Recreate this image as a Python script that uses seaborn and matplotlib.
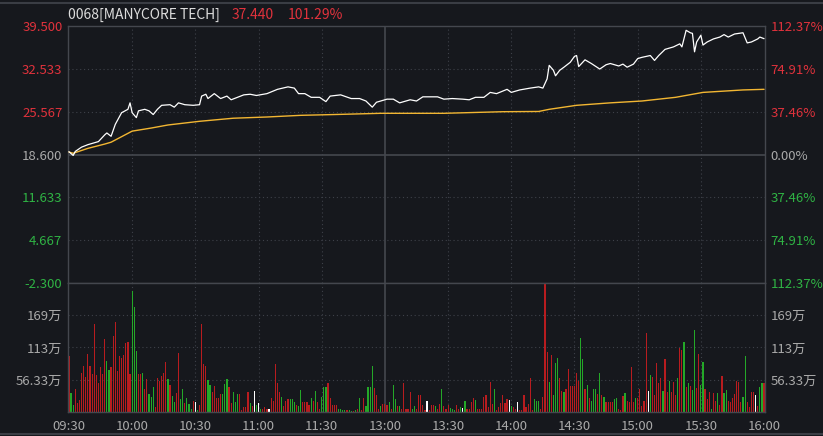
import numpy as np
import pandas as pd
import matplotlib
matplotlib.use('Agg')
import matplotlib.pyplot as plt
import seaborn as sns
from matplotlib.lines import Line2D

# --- dados (minutos desde 09:30, almoço removido) ---
preco_minuto = [0, 2, 3, 6, 9, 14, 17, 18, 20, 22,
                25, 28, 29, 30, 32, 33, 36, 38, 40, 42,
                44, 48, 50, 52, 55, 59, 62, 63, 65, 66,
                69, 72, 75, 77, 80, 83, 86, 89, 94, 99,
                104, 107, 109, 112, 115, 119, 122, 124, 129, 134,
                138, 141, 144, 146, 151, 154, 157, 162, 165, 168,
                175, 178, 182, 187, 190, 193, 197, 200, 203, 208,
                210, 214, 219, 223, 225, 227, 228, 230, 231, 233,
                235, 238, 240, 241, 242, 245, 248, 252, 255, 257,
                261, 263, 265, 268, 270, 272, 276, 278, 280, 283,
                287, 290, 291, 293, 295, 296, 297, 298, 300, 301,
                303, 306, 309, 311, 313, 316, 320, 322, 324, 327,
                328, 330]
preco = [19.05, 18.45, 19.1, 19.8, 20.2, 20.7, 21.8, 22.1, 21.56, 23.5,
         25.4, 25.95, 27.0, 25.4, 24.6, 25.7, 25.95, 25.7, 25.1, 25.95,
         26.6, 26.7, 26.3, 27.0, 26.7, 26.6, 26.7, 28.1, 28.4, 27.7,
         28.5, 27.7, 28.1, 27.5, 27.9, 28.3, 28.4, 28.2, 28.5, 29.2,
         29.6, 29.4, 28.5, 28.5, 27.9, 27.9, 27.2, 28.1, 28.3, 27.7,
         27.7, 27.3, 26.3, 27.1, 27.6, 27.6, 27.0, 27.5, 27.3, 27.98,
         27.98, 27.6, 27.7, 27.6, 27.5, 27.9, 27.9, 28.7, 28.5, 29.2,
         28.7, 29.1, 29.4, 29.6, 29.4, 30.9, 33.1, 32.3, 31.4, 32.3,
         32.8, 33.6, 34.56, 34.7, 32.9, 34.0, 33.4, 32.5, 33.2, 33.4,
         33.0, 33.3, 32.8, 33.3, 34.2, 34.4, 34.7, 33.9, 34.7, 35.7,
         36.1, 36.6, 36.1, 38.8, 38.4, 38.3, 35.3, 36.9, 38.0, 36.4,
         36.9, 37.4, 37.7, 38.1, 37.7, 38.2, 38.4, 36.75, 36.9, 37.4,
         37.7, 37.44]

media_minuto = [0, 2, 9, 17, 20, 30, 39, 47, 62, 78, 94, 110, 126, 148, 178,
                206, 223, 228, 241, 257, 272, 288, 301, 320, 330]
media_preco = [19.0, 18.8, 19.6, 20.3, 20.6, 22.4, 22.9, 23.4, 24.0, 24.5, 24.7,
               24.97, 25.1, 25.3, 25.3, 25.56, 25.6, 25.95, 26.6, 27.0, 27.3,
               27.9, 28.7, 29.1, 29.2]

# volume por minuto (万 ações)
volume = [97, 33, 12, 40, 15, 21, 68, 81, 62, 101, 81, 66, 153, 65, 50, 78, 66, 127, 89, 74,
          78, 133, 157, 71, 98, 94, 100, 121, 122, 66,
          212, 183, 106, 67, 66, 68, 40, 58, 32, 27, 44, 8, 60, 55, 63, 68, 87, 58, 48, 28,
          18, 33, 103, 23, 40, 15, 24, 14, 5, 20, 18, 4, 12, 153, 83, 80,
          56, 47, 35, 45, 25, 25, 32, 32, 49, 58, 43, 15, 35, 17, 32, 32, 3, 8, 8, 35,
          15, 10, 37, 12, 16, 6, 6, 8, 5, 5, 25, 20, 83, 50, 35, 27, 10, 20, 22, 22,
          22, 18, 12, 10, 38, 17, 18, 17, 13, 24, 20, 37, 17, 5, 27, 43, 43, 50, 25, 13,
          13, 12, 5, 5, 3, 3,
          3, 3, 2, 2, 3, 5, 24, 3, 24, 10, 44, 43, 81, 42, 30, 5, 10, 14, 14, 12,
          18, 5, 48, 22, 10, 10, 5, 51, 5, 5, 35, 5, 10, 5, 30, 30, 12, 3, 19, 3,
          12, 12, 10, 5, 14, 41, 10, 5, 12, 7, 5, 3, 12, 5, 8, 7, 20, 5, 5, 17,
          24, 21, 5, 5, 5, 27,
          30, 8, 53, 14, 40, 3, 8, 15, 30, 15, 22, 21, 10, 8, 5, 17, 3, 3, 30, 8,
          14, 60, 3, 22, 19, 19, 5, 27,
          224, 105, 53, 99, 30, 85, 95, 60, 37, 35, 40, 75, 45, 45, 45, 68, 55, 130, 93, 40,
          47, 25, 20, 40, 40, 32, 68, 30, 27, 18, 18, 17, 17, 22, 24, 5, 3, 28,
          33, 20, 18, 78, 18, 25, 25, 40, 10, 20, 138, 37, 64, 62, 30, 85, 50, 60, 37, 92,
          35, 55, 35, 52, 30, 60, 112, 108, 123, 43, 50, 45, 38, 144, 42, 102, 47, 88, 40, 22,
          35, 5, 33, 20, 33, 12, 63, 33, 38, 20, 17, 25, 32, 55, 52, 18, 27, 97, 17, 8,
          35, 35, 30, 10, 43, 50, 50]
# r = alta, g = baixa, w = estável
direcao = list(
    'rggrrrrrrr' 'rrrrrrrrgg' 'rrrrrrrrrr'
    'gggrrgrrgg' 'grrrrrrgrg' 'grrggrgggr' 'wgrrrr'
    'ggrrrrrggg' 'rrgggrrrrr' 'grwgwgrrrw' 'rrrrrgrrrg' 'ggrggrrrrg' 'rgrrgggrrr' 'rrgggg'
    'rggrgrgrrg' 'gggrrrgrrr' 'grggrgrrrr' 'rggrrrrrwr' 'rrgrrgrrrg' 'ggrrgwgrrr' 'rgrrrr'
    'rrrrgrrrrr' 'rwgrrwrrrr' 'rrrgggrr'
    'rrgrgggrrg' 'rrrrrrrggr' 'grgggrgrgr' 'rrrggrrr'
    'grrrrgrrrr' 'rwgrrrrrgr' 'rgrrrgrrgr' 'grggrrggrr' 'rgrrgrrggr' 'rrrrrrggrr' 'rrwrggr'
)
assert len(volume) == len(direcao) == 331, (len(volume), len(direcao))

precos_ticks = [39.5, 32.533, 25.567, 18.6, 11.633, 4.667, -2.3]
precos_labels = ['39.500', '32.533', '25.567', '18.600', '11.633', '4.667', '-2.300']
pct_labels = ['112.37%', '74.91%', '37.46%', '0.00%', '37.46%', '74.91%', '112.37%']
vol_ticks = [56.33, 112.67, 169.0]
vol_labels = ['56.33万', '113万', '169万']
hora_labels = ['09:30', '10:00', '10:30', '11:00', '11:30', '13:00',
               '13:30', '14:00', '14:30', '15:00', '15:30', '16:00']

nome = '0068[MANYCORE TECH]'
ultimo = '37.440'
variacao = '101.29%'

# --- cores ---
FUNDO = '#16181d'
GRADE = '#3e4149'
BORDA = '#44474e'
VERMELHO = '#e0323c'
VERDE = '#2fb344'
CINZA = '#a9a9a9'
BAR_VERM = '#b81c1f'
BAR_VERDE = '#24a828'
cores_barra = {'r': BAR_VERM, 'g': BAR_VERDE, 'w': '#ffffff'}

sns.set_theme(style='dark', rc={'axes.facecolor': FUNDO, 'figure.facecolor': FUNDO})
plt.rcParams['font.family'] = ['Noto Sans CJK SC', 'DejaVu Sans']

fig = plt.figure(figsize=(8.23, 4.36), dpi=100)
L, W = 68 / 823, (765 - 68) / 823
ax_p = fig.add_axes([L, 1 - 283 / 436, W, (283 - 26) / 436])
ax_v = fig.add_axes([L, 1 - 412 / 436, W, (412 - 283) / 436])

xlim = (-0.45, 330.45)
horas_pos = [0, 30, 60, 90, 120, 150, 180, 210, 240, 270, 300, 330]

# --- grades e bordas ---
for ax in (ax_p, ax_v):
    ax.set_facecolor(FUNDO)
    for s in ax.spines.values():
        s.set_color(BORDA)
        s.set_linewidth(1.0)
    for xp in horas_pos[1:-1]:
        if xp == 150:
            ax.axvline(xp, color=BORDA, lw=1.2, zorder=1)
        else:
            ax.axvline(xp, color=GRADE, lw=0.8, ls=(0, (1, 2.5)), zorder=1)

for yv in precos_ticks[1:-1]:
    if yv == 18.6:
        ax_p.axhline(yv, color=BORDA, lw=1.2, zorder=1)
    else:
        ax_p.axhline(yv, color=GRADE, lw=0.8, ls=(0, (1, 2.5)), zorder=1)
for yv in vol_ticks:
    ax_v.axhline(yv, color=GRADE, lw=0.8, ls=(0, (1, 2.5)), zorder=1)

# --- painel de preço ---
sns.lineplot(x=media_minuto, y=media_preco, ax=ax_p, color='#f2b632', lw=1.0, zorder=3)
sns.lineplot(x=preco_minuto, y=preco, ax=ax_p, color='white', lw=0.9, zorder=4)

ax_p.set_xlim(*xlim)
ax_p.set_ylim(-2.3, 39.5)
ax_p.set_yticks(precos_ticks)
ax_p.set_yticklabels(precos_labels)
cores_y = [VERMELHO, VERMELHO, VERMELHO, CINZA, VERDE, VERDE, VERDE]
for lab, c in zip(ax_p.get_yticklabels(), cores_y):
    lab.set_color(c)
ax_p.tick_params(axis='y', length=0, pad=4, labelsize=9.5)
ax_p.set_xticks([])
ax_p.set_xlabel('')
ax_p.set_ylabel('')
ax_p.grid(False)

ax_r = ax_p.twinx()
ax_r.set_ylim(-2.3, 39.5)
ax_r.set_yticks(precos_ticks)
ax_r.set_yticklabels(pct_labels)
for lab, c in zip(ax_r.get_yticklabels(), cores_y):
    lab.set_color(c)
ax_r.tick_params(axis='y', length=0, pad=4, labelsize=9.5)
ax_r.grid(False)
for s in ax_r.spines.values():
    s.set_visible(False)

# --- painel de volume: um histograma discreto ponderado por direção ---
df_vol = pd.DataFrame({'minuto': np.arange(len(volume)), 'volume': volume,
                       'direcao': direcao})
for d, cor in cores_barra.items():
    sub = df_vol[df_vol['direcao'] == d]
    sns.histplot(x=sub['minuto'], weights=sub['volume'], discrete=True, shrink=0.55,
                 color=cor, alpha=1, linewidth=0, edgecolor='none',
                 antialiased=False, ax=ax_v, zorder=2)
ax_v.set_xlim(*xlim)
ax_v.set_ylim(0, 225.33)
ax_v.set_yticks(vol_ticks)
ax_v.set_yticklabels(vol_labels)
ax_v.tick_params(axis='y', length=0, pad=4, labelsize=9.5, labelcolor=CINZA)
ax_v.set_xticks(horas_pos)
ax_v.set_xticklabels(hora_labels)
ax_v.tick_params(axis='x', length=0, pad=6, labelsize=9.5, labelcolor=CINZA)
ax_v.set_xlabel('')
ax_v.set_ylabel('')
ax_v.grid(False)

ax_v2 = ax_v.twinx()
ax_v2.set_ylim(0, 225.33)
ax_v2.set_yticks(vol_ticks)
ax_v2.set_yticklabels(vol_labels)
ax_v2.tick_params(axis='y', length=0, pad=4, labelsize=9.5, labelcolor=CINZA)
ax_v2.grid(False)
for s in ax_v2.spines.values():
    s.set_visible(False)

# --- cabeçalho ---
fig.text(68 / 823, 1 - 15 / 436, nome, color='#dcdcdc', fontsize=10, va='center')
fig.text(232 / 823, 1 - 15 / 436, ultimo, color=VERMELHO, fontsize=10, va='center')
fig.text(288 / 823, 1 - 15 / 436, variacao, color=VERMELHO, fontsize=10, va='center')

fig.add_artist(Line2D([0, 1], [1 - 3 / 436, 1 - 3 / 436], color='#3a3d44', lw=1.5))
fig.add_artist(Line2D([0, 1], [1 - 434 / 436, 1 - 434 / 436], color='#3a3d44', lw=1.5))

fig.savefig('out.png', dpi=100, facecolor=FUNDO)
